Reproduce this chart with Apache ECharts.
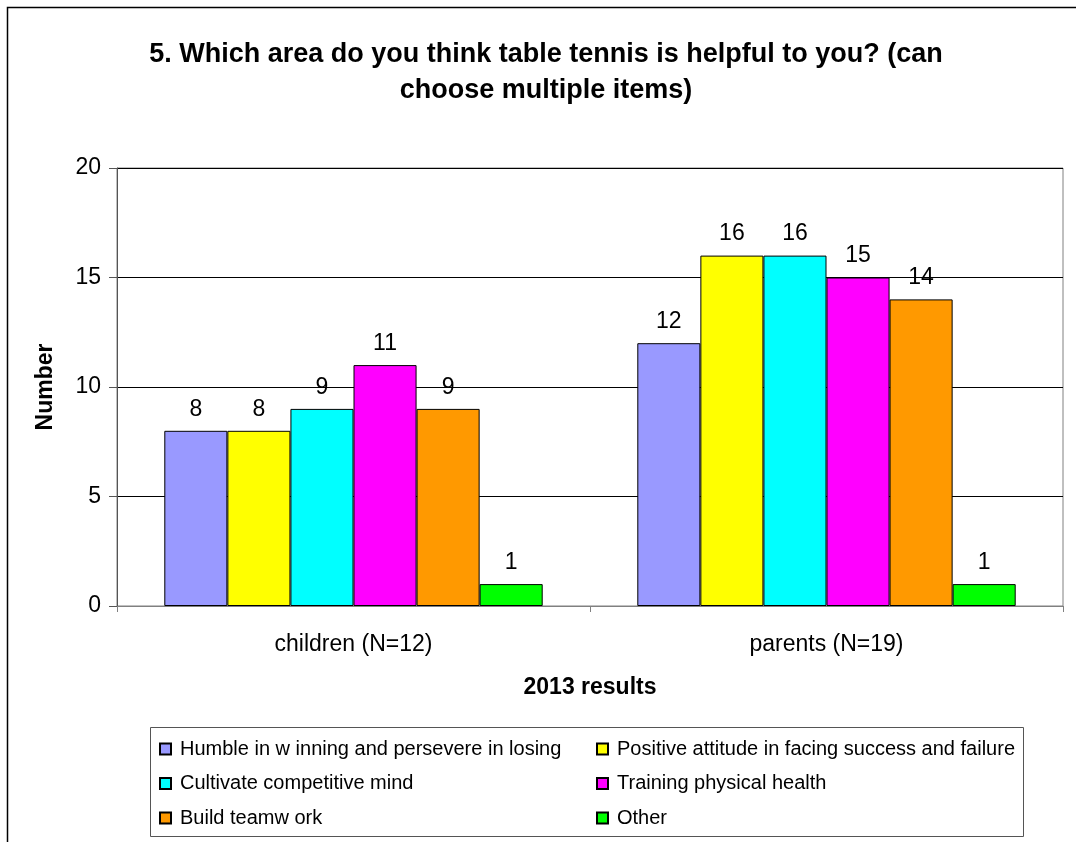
<!DOCTYPE html>
<html><head><meta charset="utf-8">
<script src="https://cdn.jsdelivr.net/npm/echarts@6/dist/echarts.min.js"></script>
<style>html,body{margin:0;padding:0;background:#fff}#c{width:1076px;height:842px}</style>
</head><body><div id="c"></div>
<script>
const categories = ['children (N=12)', 'parents (N=19)'];
const seriesNames = ['Humble in w inning and persevere in losing', 'Positive attitude in facing success and failure', 'Cultivate competitive mind', 'Training physical health', 'Build teamw ork', 'Other'];
const humble = [8, 12];
const positive = [8, 16];
const competitive = [9, 16];
const physical = [11, 15];
const teamwork = [9, 14];
const other = [1, 1];
const yTicks = [0, 5, 10, 15, 20];
const colors = ['#9999FF', '#FFFF00', '#00FFFF', '#FF00FF', '#FF9900', '#00FF00'];
const values = [humble, positive, competitive, physical, teamwork, other];

const font = 'Liberation Sans, Arial, sans-serif';
const chart = echarts.init(document.getElementById('c'), null, {renderer: 'canvas'});
const legendText = {fontSize: 20, color: '#000', fontFamily: font, padding: [0, 0, 0, 4]};
chart.setOption({
  animation: false,
  backgroundColor: '#fff',
  textStyle: {fontFamily: font},
  title: {
    text: '5. Which area do you think table tennis is helpful to you? (can\nchoose multiple items)',
    left: 541, top: 32, textAlign: 'center',
    textStyle: {fontSize: 27, fontWeight: 'bold', color: '#000', lineHeight: 36, fontFamily: font}
  },
  legend: [
    {orient: 'vertical', left: 154, top: 734, itemWidth: 11, itemHeight: 11, itemGap: 14.5,
     data: [seriesNames[0], seriesNames[2], seriesNames[4]], textStyle: legendText, icon: 'rect'},
    {orient: 'vertical', left: 591, top: 734, itemWidth: 11, itemHeight: 11, itemGap: 14.5,
     data: [seriesNames[1], seriesNames[3], seriesNames[5]], textStyle: legendText, icon: 'rect'}
  ],
  grid: {left: 117, top: 168, right: 13, bottom: 236, show: true, borderColor: '#808080', borderWidth: 1},
  xAxis: {
    type: 'category', data: categories,
    name: '2013 results', nameLocation: 'middle', nameGap: 70,
    nameTextStyle: {fontSize: 23, fontWeight: 'bold', color: '#000', fontFamily: font},
    axisLine: {lineStyle: {color: '#808080', width: 1}},
    axisTick: {show: true, length: 6, lineStyle: {color: '#808080'}, alignWithLabel: false},
    axisLabel: {fontSize: 23, color: '#000', margin: 27, fontFamily: font}
  },
  yAxis: {
    type: 'value', min: yTicks[0], max: yTicks[yTicks.length - 1], interval: 5,
    name: 'Number', nameLocation: 'middle', nameGap: 60, nameRotate: 90,
    nameTextStyle: {fontSize: 23, fontWeight: 'bold', color: '#000', fontFamily: font},
    axisLine: {show: true, lineStyle: {color: '#555', width: 1}},
    axisTick: {show: true, length: 8, lineStyle: {color: '#555'}},
    axisLabel: {fontSize: 23, color: '#000', margin: 16, fontFamily: font},
    splitLine: {show: true, lineStyle: {color: '#000', width: 1}}
  },
  series: seriesNames.map((n, i) => ({
    name: n, type: 'bar', data: values[i],
    barGap: '0%', barCategoryGap: '20%',
    itemStyle: {color: colors[i], borderColor: '#000', borderWidth: 1},
    label: {show: true, position: 'top', distance: 10, fontSize: 23, color: '#000', fontFamily: font}
  })),
  graphic: [
    {type: 'rect', shape: {x: 7.5, y: 7.5, width: 1100, height: 900}, style: {fill: 'none', stroke: '#000', lineWidth: 1.5}, silent: true},
    {type: 'rect', shape: {x: 150.5, y: 727.5, width: 873, height: 109}, style: {fill: 'none', stroke: '#555', lineWidth: 1}, silent: true}
  ]
});
</script></body></html>
